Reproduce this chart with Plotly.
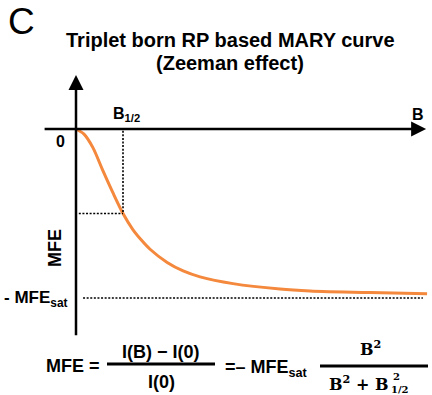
import plotly.graph_objects as go

# ---- data (B in units of B1/2, MFE in units of MFE_sat) ----
B_VALUES = [0.0, 0.17, 0.36, 0.57, 0.79, 1.00, 1.21, 1.40, 1.57, 1.94, 2.28, 2.64, 3.34, 4.34, 4.98, 6.26, 7.47]
MFE_VALUES = [0.0, -0.03, -0.11, -0.245, -0.38, -0.50, -0.595, -0.66, -0.71, -0.79, -0.84, -0.875, -0.915, -0.947, -0.958, -0.968, -0.975]
B_HALF = 1.0
MFE_SAT = 1.0

# ---- layout constants ----
W, H = 432, 395
X0_PX, UX = 76, 47      # pixel of B=0, pixels per B1/2
Y0_PX, UY = 129, 169    # pixel of MFE=0, pixels per MFE_sat
ORANGE = "#F4883C"
SANS = "Liberation Sans"
SERIF = "DejaVu Serif"


def px(x, y):
    return x / W, 1 - y / H


fig = go.Figure()
fig.add_trace(go.Scatter(
    x=B_VALUES, y=MFE_VALUES, mode="lines",
    line=dict(color=ORANGE, width=3, shape="spline", smoothing=0.8),
    hoverinfo="skip", showlegend=False,
))

shapes = []
dot = dict(color="black", width=1.6, dash="2px,1.6px")
shapes.append(dict(type="line", xref="x", yref="y", x0=B_HALF, x1=B_HALF,
                   y0=-0.01, y1=-MFE_SAT / 2, line=dot))
shapes.append(dict(type="line", xref="x", yref="y", x0=0.06, x1=B_HALF,
                   y0=-MFE_SAT / 2, y1=-MFE_SAT / 2, line=dot))
shapes.append(dict(type="line", xref="x", yref="y", x0=0.15, x1=7.38,
                   y0=-MFE_SAT, y1=-MFE_SAT, line=dot))
# fraction bars
shapes.append(dict(type="line", xref="paper", yref="paper",
                   x0=107 / W, x1=215 / W, y0=1 - 364 / H, y1=1 - 364 / H,
                   line=dict(color="black", width=3)))
shapes.append(dict(type="line", xref="paper", yref="paper",
                   x0=320 / W, x1=428 / W, y0=1 - 366 / H, y1=1 - 366 / H,
                   line=dict(color="black", width=3)))

ann = []
# axes with arrows
ann.append(dict(xref="x", yref="y", axref="x", ayref="y", x=7.45, y=0, ax=-0.70, ay=0,
                showarrow=True, arrowhead=2, arrowsize=1.2, arrowwidth=2.5,
                arrowcolor="black", text="", standoff=0, startstandoff=0))
ann.append(dict(xref="x", yref="y", axref="x", ayref="y", x=0, y=0.32, ax=0, ay=-1.23,
                showarrow=True, arrowhead=2, arrowsize=1.2, arrowwidth=2.5,
                arrowcolor="black", text="", standoff=0, startstandoff=0))


def txt(text, x, y, size, xa="center", ya="middle", family=SANS, angle=0, weight="bold"):
    ax_, ay_ = px(x, y)
    ann.append(dict(xref="paper", yref="paper", x=ax_, y=ay_, text=text, showarrow=False,
                    xanchor=xa, yanchor=ya, textangle=angle, borderpad=0,
                    font=dict(family=family, size=size, color="black", weight=weight)))


txt("C", 7, 0, 37, xa="left", ya="top", weight="normal")
txt("Triplet born RP based MARY curve", 230, 40, 20)
txt("(Zeeman effect)", 230, 63, 20)
txt("B<sub>1/2</sub>", 112, 114, 16, xa="left")
txt("B", 418, 114, 16)
txt("0", 60, 142, 16)
txt("MFE", 55, 248, 18, angle=-90)
txt("- MFE<sub>sat</sub>", 69, 299, 17, xa="right")
# formula
txt("MFE =", 45, 366, 18, xa="left")
txt("I(B) − I(0)", 161, 352, 18)
txt("I(0)", 161, 382, 18)
txt("=– MFE<sub>sat</sub>", 224, 368, 18, xa="left")
txt("B<sup>2</sup>", 370, 348, 16, family=SERIF)
txt("B<sup>2</sup> + B", 389, 383, 16, xa="right", family=SERIF)
txt("2", 392, 376, 10, xa="left", family=SERIF)
txt("1/2", 390, 389, 10, xa="left", family=SERIF)

fig.update_layout(
    width=W, height=H, margin=dict(l=0, r=0, t=0, b=0),
    paper_bgcolor="white", plot_bgcolor="white",
    xaxis=dict(range=[(0 - X0_PX) / UX, (W - X0_PX) / UX], visible=False, fixedrange=True),
    yaxis=dict(range=[-(H - Y0_PX) / UY, Y0_PX / UY], visible=False, fixedrange=True),
    shapes=shapes, annotations=ann, showlegend=False,
)

fig.write_html("out.html", config={"displayModeBar": False})
